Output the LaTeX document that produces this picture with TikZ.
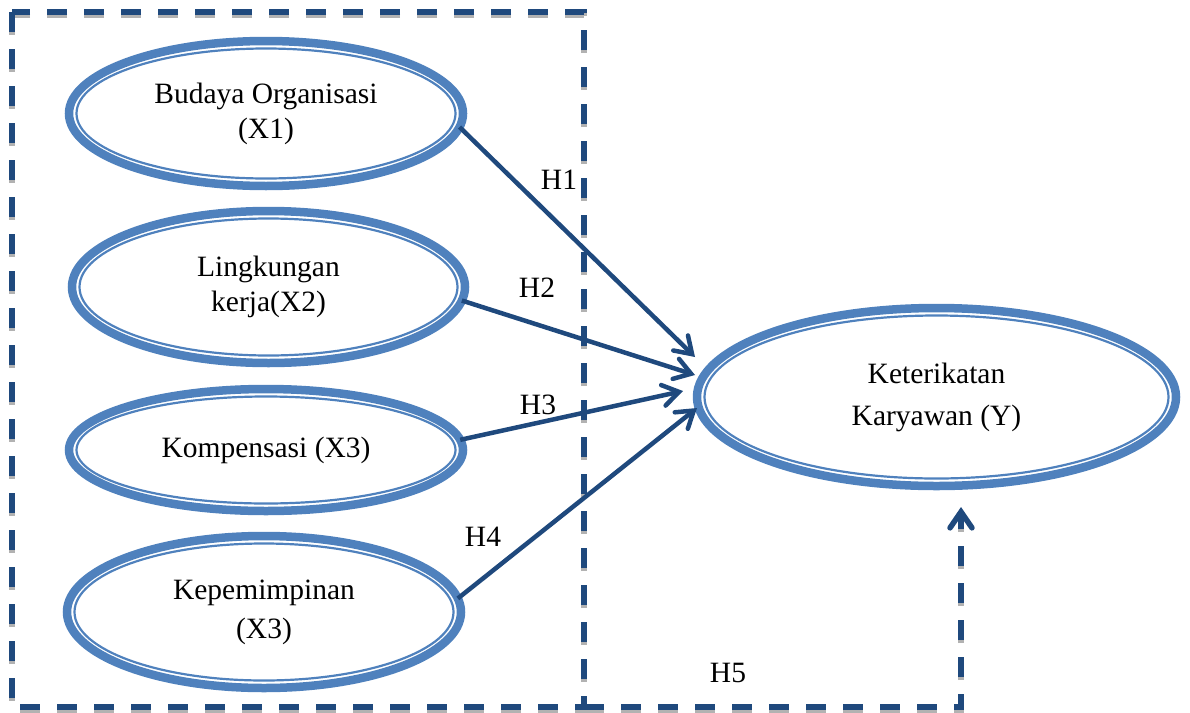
\documentclass[tikz,border=0pt]{standalone}
\usepackage{fontspec}
\setmainfont{Liberation Serif}
\usetikzlibrary{shapes.geometric,arrows.meta,calc}

\definecolor{ellblue}{HTML}{4F81BD}
\definecolor{darkblue}{HTML}{1F497D}

\tikzset{
  construct/.style={ellipse, draw=ellblue, line width=8.5pt, inner sep=0pt, outer sep=0pt, align=center},
  pathline/.style={draw=darkblue, line width=4.5pt, -{Straight Barb[length=16pt,width=21pt,line cap=round]}},
  dashline/.style={draw=darkblue, line width=5.5pt, dash pattern=on 20pt off 17pt,
    preaction={draw=gray!60, line width=5.5pt, dash pattern=on 20pt off 17pt, arrows=-,
      transform canvas={yshift=-3pt}}}
}

\begin{document}
\begin{tikzpicture}[x=1pt,y=-1pt,font=\fontsize{29.5}{35}\selectfont]
\useasboundingbox (0,0) rectangle (1190,712);

% Dashed frame round the independent variables
\draw[dashline] (12,12) rectangle (584,707);
\coordinate (framecorner) at (584,707);

% Independent variables
\node[construct, minimum width=394pt, minimum height=145pt] (budaya) at (266,113.5) {Budaya Organisasi\\(X1)};
\node[construct, minimum width=393pt, minimum height=152pt] (lingkungan) at (268.5,287) {Lingkungan\\kerja(X2)};
\node[construct, minimum width=394pt, minimum height=122pt] (kompensasi) at (266,450) {Kompensasi (X3)};
\node[construct, minimum width=394pt, minimum height=152pt] (kepemimpinan) at (264,612) {Kepemimpinan\\[4pt](X3)};

% Dependent variable
\node[construct, minimum width=479pt, minimum height=178pt] (keterikatan) at (936.5,397) {Keterikatan\\[7pt]Karyawan (Y)};

% Thin inner rings
\foreach \v in {budaya,lingkungan,kompensasi,kepemimpinan,keterikatan}
  \draw[ellblue, line width=2.2pt] let \p1=($(\v.east)-(\v.center)$), \p2=($(\v.north)-(\v.center)$) in
    (\v.center) ellipse [x radius=\x1-7.5pt, y radius=\y2-7.5pt];

% Arrow ends at the dependent variable
\coordinate (h1end) at ($(keterikatan.west)+(-2,-40)$);
\coordinate (h2end) at ($(keterikatan.west)+(-2,-22)$);
\coordinate (h3end) at ($(keterikatan.west)+(-14,-6)$);
\coordinate (h4end) at ($(keterikatan.west)+(0,11)$);
\coordinate (h5end) at ($(keterikatan.south)+(24.5,21)$);

% Hypotheses
\draw[pathline] (budaya.-4) -- (h1end);
\draw[pathline] (lingkungan.-4) -- (h2end);
\draw[pathline] (kompensasi.3) -- (h3end);
\draw[pathline] (kepemimpinan.4) -- (h4end);
\draw[dashline, -{Straight Barb[length=16pt,width=22pt,line cap=round]}] (framecorner) -| (h5end);

% Labels
\node (h1) at (559,180) {H1};
\node (h2) at (537,288) {H2};
\node (h3) at (538,405) {H3};
\node (h4) at (483,537) {H4};
\node (h5) at (728,673) {H5};

\end{tikzpicture}
\end{document}
